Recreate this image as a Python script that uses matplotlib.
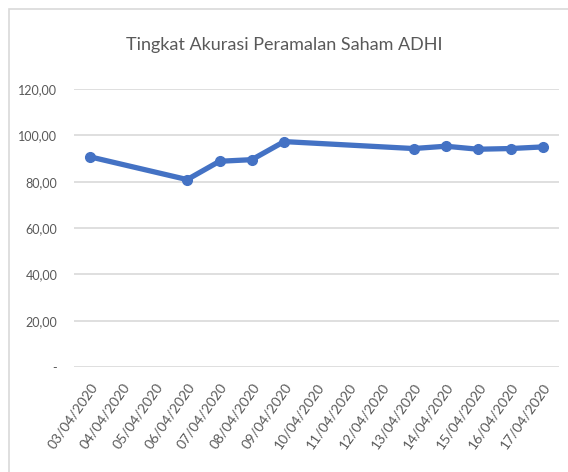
import numpy as np
import matplotlib.pyplot as plt
from matplotlib.patches import Rectangle
from matplotlib.ticker import FuncFormatter

# Tanggal (sumbu tanggal harian) dan nilai akurasi
dates = ['03/04/2020', '04/04/2020', '05/04/2020', '06/04/2020', '07/04/2020',
         '08/04/2020', '09/04/2020', '10/04/2020', '11/04/2020', '12/04/2020',
         '13/04/2020', '14/04/2020', '15/04/2020', '16/04/2020', '17/04/2020']
obs_dates = ['03/04/2020', '06/04/2020', '07/04/2020', '08/04/2020', '09/04/2020',
             '13/04/2020', '14/04/2020', '15/04/2020', '16/04/2020', '17/04/2020']
accuracy = [90.7, 80.9, 88.8, 89.5, 97.3, 94.3, 95.3, 94.0, 94.3, 95.0]
yticks = [0, 20, 40, 60, 80, 100, 120]

plt.rcParams['font.family'] = ['Lato', 'DejaVu Sans']
text_col = '#595959'

fig = plt.figure(figsize=(5.68, 4.72), dpi=100)
fig.patch.set_facecolor('white')

# Rahmen grafik ala Excel
fig.patches.append(Rectangle((9 / 568, -0.05), 1.0, 1 - 9 / 472 + 0.05,
                             transform=fig.transFigure, fill=False,
                             edgecolor='#d9d9d9', linewidth=1.2))

ax = fig.add_axes([74 / 568, 1 - 367 / 472, (559 - 74) / 568, (367 - 89) / 472])

x_idx = [dates.index(d) for d in obs_dates]
ax.plot(x_idx, accuracy, color='#4472C4', linewidth=3.8, marker='o',
        markersize=7, solid_capstyle='round', solid_joinstyle='round')

ax.set_xlim(-0.5, len(dates) - 0.5)
ax.set_ylim(0, 120)
ax.set_yticks(yticks)


def fmt(v, pos):
    if v == 0:
        return '-'
    return f'{v:.2f}'.replace('.', ',')


ax.yaxis.set_major_formatter(FuncFormatter(fmt))
ax.grid(axis='y', color='#d9d9d9', linewidth=1.2)
ax.set_axisbelow(True)
for s in ax.spines.values():
    s.set_visible(False)
ax.tick_params(axis='both', length=0, colors=text_col, labelsize=9)
ax.tick_params(axis='y', pad=12)

ax.set_xticks(range(len(dates)))
ax.set_xticklabels(dates, rotation=55, ha='right', va='top', rotation_mode='anchor',
                   fontsize=10)
ax.tick_params(axis='x', pad=10)

fig.text(0.5, 1 - 45 / 472, 'Tingkat Akurasi Peramalan Saham ADHI',
         ha='center', va='center', fontsize=13, color=text_col)

fig.savefig('out.png', dpi=100, facecolor='white')
